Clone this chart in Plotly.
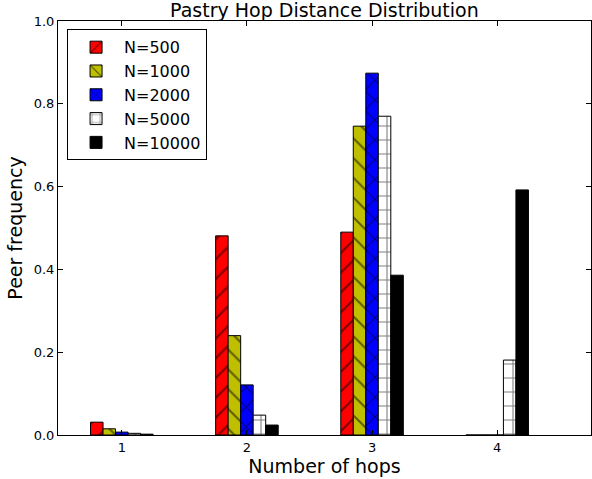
import plotly.graph_objects as go

hops = [1, 2, 3, 4]
series_names = ["N=500", "N=1000", "N=2000", "N=5000", "N=10000"]
n500 = [0.031, 0.481, 0.490, 0.0]
n1000 = [0.015, 0.240, 0.746, 0.0]
n2000 = [0.007, 0.121, 0.874, 0.0]
n5000 = [0.004, 0.048, 0.770, 0.181]
n10000 = [0.002, 0.024, 0.386, 0.592]
y_ticks = [0.0, 0.2, 0.4, 0.6, 0.8, 1.0]

values = [n500, n1000, n2000, n5000, n10000]
colors = ["#ff0000", "#bfbf00", "#0000ff", "#ffffff", "#000000"]
shapes = ["/", "\\", "x", "+", ""]

fig = go.Figure()
for name, vals, col, shp in zip(series_names, values, colors, shapes):
    fig.add_trace(go.Bar(
        x=hops, y=vals, name=name,
        marker=dict(color=col, line=dict(color="black", width=1),
                    pattern=dict(shape=shp, fgcolor="black", bgcolor=col,
                                 size=14, solidity=0.15, fillmode="overlay")),
    ))

font_family = "DejaVu Sans"
fig.update_layout(
    width=592, height=479,
    margin=dict(l=58, r=1, t=21, b=44),
    paper_bgcolor="white", plot_bgcolor="white",
    barmode="group", bargap=0.5, bargroupgap=0,
    font=dict(family=font_family, size=13, color="black"),
    title=dict(text="Pastry Hop Distance Distribution", x=0.548, xanchor="center",
               y=0.979, yref="container", yanchor="middle",
               font=dict(size=19, family=font_family)),
    legend=dict(x=0.017, y=0.98, xanchor="left", yanchor="top",
                bordercolor="black", borderwidth=1, bgcolor="white",
                font=dict(size=16, family=font_family), tracegroupgap=0,
                itemwidth=46),
    xaxis=dict(range=[0.49, 4.75], tickvals=hops, ticktext=[str(h) for h in hops],
               ticks="inside", ticklen=5, tickcolor="black",
               showline=True, linecolor="black", linewidth=1, mirror="ticks",
               showgrid=False, zeroline=False,
               title=dict(text="Number of hops", font=dict(size=19), standoff=6)),
    yaxis=dict(range=[0, 1.0], tickvals=y_ticks, ticktext=[f"{v:.1f}" for v in y_ticks],
               ticks="inside", ticklen=5, tickcolor="black",
               showline=True, linecolor="black", linewidth=1, mirror="ticks",
               showgrid=False, zeroline=False,
               title=dict(text="Peer frequency", font=dict(size=19), standoff=6)),
)

fig.write_html("out.html")
